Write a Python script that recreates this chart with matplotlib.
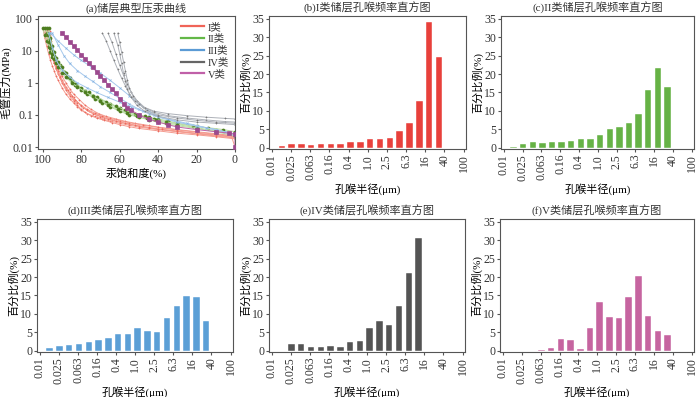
import matplotlib
matplotlib.use("Agg")
import matplotlib.pyplot as plt
import numpy as np

plt.rcParams['font.family'] = ['Liberation Serif', 'Noto Sans CJK SC', 'DejaVu Sans']
plt.rcParams['axes.unicode_minus'] = False
plt.rcParams['text.color'] = '#333333'
plt.rcParams['axes.edgecolor'] = '#555555'
plt.rcParams['xtick.color'] = '#555555'
plt.rcParams['ytick.color'] = '#555555'
plt.rcParams['xtick.labelcolor'] = '#333333'
plt.rcParams['ytick.labelcolor'] = '#333333'

W, H = 700, 397

# ---- capillary pressure curves (mercury saturation %, pressure MPa) ----
class_I = [
    ([100, 99, 98, 97, 96, 95, 94, 93, 92, 90, 88, 86, 84, 82, 80, 77, 73, 69, 65, 60, 55, 50, 40, 30, 20, 10, 0],
     [50, 25, 14, 8, 5, 3.3, 2.3, 1.6, 1.2, 0.7, 0.45, 0.32, 0.24, 0.18, 0.14, 0.11, 0.09, 0.075, 0.065, 0.055, 0.048, 0.042, 0.035, 0.03, 0.026, 0.023, 0.02]),
    ([97, 96.5, 96, 95, 94, 93, 92, 91, 90, 88, 86, 84, 82, 80, 78, 75, 72, 68, 64, 60, 55, 50, 40, 30, 20, 10, 0],
     [50, 25, 13, 7, 4.2, 2.8, 2.0, 1.4, 1.0, 0.6, 0.4, 0.28, 0.2, 0.15, 0.12, 0.095, 0.08, 0.068, 0.058, 0.05, 0.043, 0.038, 0.032, 0.027, 0.024, 0.021, 0.018]),
    ([99, 98, 97, 96, 95, 94, 92, 90, 88, 86, 84, 81, 78, 75, 71, 67, 62, 57, 52, 45, 38, 30, 20, 10, 2, 0],
     [50, 30, 18, 11, 7, 4.8, 2.6, 1.6, 1.0, 0.65, 0.45, 0.3, 0.2, 0.15, 0.11, 0.09, 0.075, 0.063, 0.055, 0.047, 0.04, 0.035, 0.03, 0.026, 0.023, 0.01]),
    ([98, 97, 96, 95, 94, 93, 92, 90, 88, 86, 84, 82, 79, 76, 72, 68, 64, 60, 55, 50, 45, 40, 30, 20, 10, 0],
     [45, 20, 11, 6.5, 4, 2.7, 1.9, 1.1, 0.7, 0.46, 0.32, 0.24, 0.17, 0.13, 0.1, 0.082, 0.07, 0.06, 0.052, 0.045, 0.04, 0.036, 0.031, 0.027, 0.024, 0.021]),
    ([96, 95.5, 95, 94, 93, 92, 91, 90, 88, 86, 84, 82, 80, 77, 74, 70, 66, 62, 57, 52, 45, 38, 30, 20, 10, 0],
     [40, 20, 10, 5.5, 3.4, 2.3, 1.6, 1.2, 0.75, 0.5, 0.35, 0.25, 0.19, 0.14, 0.11, 0.088, 0.074, 0.064, 0.055, 0.048, 0.041, 0.036, 0.031, 0.026, 0.022, 0.019]),
    ([100, 99, 98, 97, 96, 95, 94, 93, 91, 89, 87, 85, 83, 80, 77, 73, 69, 65, 60, 55, 48, 40, 30, 20, 10, 0],
     [50, 35, 22, 14, 9, 6, 4, 2.8, 1.5, 0.9, 0.58, 0.4, 0.29, 0.2, 0.15, 0.115, 0.092, 0.078, 0.066, 0.057, 0.048, 0.041, 0.034, 0.029, 0.025, 0.022]),
]
class_II = [
    ([100, 99, 98, 97, 96, 95, 93, 91, 89, 87, 85, 82, 78, 74, 70, 65, 60, 55, 50, 45, 40, 35, 30, 20, 10, 0],
     [50, 30, 20, 13, 9, 6.5, 4.3, 3, 2.1, 1.5, 1.1, 0.8, 0.55, 0.4, 0.3, 0.22, 0.16, 0.12, 0.1, 0.085, 0.075, 0.065, 0.055, 0.045, 0.035, 0.025]),
    ([97, 96, 95, 94, 93, 91, 89, 87, 85, 83, 80, 77, 73, 69, 65, 60, 55, 50, 45, 40, 35, 30, 20, 10, 0],
     [50, 25, 14, 9, 6, 3.5, 2.2, 1.5, 1.1, 0.85, 0.6, 0.45, 0.32, 0.24, 0.18, 0.13, 0.1, 0.085, 0.07, 0.06, 0.052, 0.046, 0.038, 0.03, 0.022]),
    ([99, 98, 97, 96, 95, 94, 92, 90, 88, 86, 83, 80, 76, 72, 67, 62, 57, 52, 47, 42, 36, 30, 22, 14, 6, 0],
     [50, 35, 22, 15, 10, 7, 4.5, 3, 2, 1.4, 0.95, 0.7, 0.5, 0.36, 0.26, 0.19, 0.14, 0.11, 0.09, 0.075, 0.062, 0.053, 0.045, 0.04, 0.035, 0.03]),
    ([98, 97.5, 97, 96, 95, 94, 93, 92, 90, 88, 85, 82, 78, 74, 70, 66, 61, 56, 51, 46, 41, 36, 30, 20, 10, 0],
     [50, 30, 18, 12, 8, 5.5, 4, 3, 2.0, 1.5, 1.0, 0.75, 0.52, 0.38, 0.28, 0.21, 0.15, 0.115, 0.095, 0.08, 0.068, 0.058, 0.05, 0.04, 0.032, 0.026]),
]
class_III = [
    ([96, 92, 88, 84, 80, 75, 70, 65, 60, 55, 50, 45, 40, 30, 20, 10, 0],
     [35, 20, 12, 7.5, 5, 3.2, 2.0, 1.2, 0.7, 0.4, 0.22, 0.13, 0.09, 0.06, 0.045, 0.035, 0.025]),
    ([95, 92, 89, 86, 82, 78, 74, 70, 65, 60, 55, 50, 45, 40, 30, 20, 10, 0],
     [35, 15, 7, 4, 2.4, 1.6, 1.1, 0.75, 0.5, 0.33, 0.22, 0.15, 0.11, 0.085, 0.06, 0.045, 0.035, 0.025]),
    ([97, 95, 93, 90, 86, 82, 77, 72, 66, 60, 54, 48, 42, 35, 25, 15, 5, 0],
     [35, 12, 5, 2.5, 1.5, 1.0, 0.7, 0.5, 0.35, 0.25, 0.18, 0.13, 0.1, 0.075, 0.055, 0.04, 0.03, 0.022]),
]
class_IV = [
    ([69, 67, 65, 63, 61, 59, 57, 55, 52, 48, 42, 35, 25, 15, 5, 0],
     [35, 20, 10, 5, 2.6, 1.4, 0.8, 0.45, 0.27, 0.18, 0.13, 0.11, 0.095, 0.085, 0.078, 0.075]),
    ([66, 64, 62, 60, 58, 56, 54, 51, 47, 42, 35, 25, 15, 5, 0],
     [35, 18, 8, 3.5, 1.7, 0.9, 0.5, 0.28, 0.17, 0.12, 0.095, 0.08, 0.07, 0.062, 0.06]),
    ([63, 61, 60, 59, 58, 57, 56, 54, 51, 47, 40, 30, 20, 10, 0],
     [35, 15, 8, 4, 2, 1.1, 0.65, 0.35, 0.2, 0.13, 0.09, 0.07, 0.06, 0.055, 0.05]),
    ([61, 60, 59, 58, 57, 56, 55, 53, 50, 46, 40, 30, 20, 10, 0],
     [35, 18, 9, 4.5, 2.3, 1.2, 0.7, 0.38, 0.22, 0.14, 0.1, 0.08, 0.068, 0.06, 0.055]),
]
class_V = [
    ([90, 88, 86, 84, 82, 80, 78, 76, 74, 72, 70, 68, 66, 64, 62, 60, 58, 56, 54, 50, 45, 40, 35, 30, 20, 10, 3, 0, 0],
     [35, 26, 19, 14, 10.4, 7.6, 5.6, 4.1, 3.0, 2.2, 1.6, 1.2, 0.87, 0.64, 0.47, 0.31, 0.22, 0.17, 0.14, 0.1, 0.075, 0.06, 0.05, 0.042, 0.035, 0.03, 0.027, 0.025, 0.01]),
]

# name, curves, line colour, marker colour, marker, marker size, legend colour
curve_groups = [
    ('I类', class_I, '#f49a8e', '#ec6a5e', '+', 2.0, '#f06458'),
    ('II类', class_II, '#b8dca2', '#4d7d1f', 'o', 2.2, '#63b847'),
    ('III类', class_III, '#a5c8ec', '#86b4e2', 'x', 1.5, '#5b9bd5'),
    ('IV类', class_IV, '#adb1b8', '#7a7a7a', '+', 2.0, '#666666'),
    ('V类', class_V, '#c060a8', '#9c4a8e', 's', 2.4, '#c060a8'),
]

# ---- pore throat frequency histograms (%) ----
radius_labels = ['0.01', '0.025', '0.063', '0.16', '0.4', '1.0', '2.5', '6.3', '16', '40', '100']
freq_I = [0.5, 1.0, 1.0, 0.8, 1.0, 1.1, 1.1, 1.6, 1.6, 2.3, 2.4, 2.6, 4.6, 6.7, 12.8, 34.1, 24.5, 0, 0]
freq_II = [0.3, 1.1, 1.6, 1.4, 1.6, 1.6, 1.8, 2.3, 2.3, 3.5, 5.0, 5.7, 6.7, 9.3, 15.6, 21.5, 16.4, 0, 0]
freq_III = [0.9, 1.2, 1.6, 1.8, 2.5, 3.0, 3.4, 4.6, 4.6, 6.1, 5.4, 5.1, 8.9, 12.2, 14.9, 14.6, 8.2, 0, 0]
freq_IV = [0, 2.0, 1.9, 1.1, 1.1, 1.3, 1.1, 2.3, 2.7, 6.1, 8.2, 6.9, 12.2, 21.2, 30.6, 0, 0, 0, 0]
freq_V = [0, 0, 0.1, 0.3, 0.9, 3.2, 3.0, 0.6, 6.1, 13.1, 9.2, 8.8, 14.5, 20.3, 9.5, 5.3, 4.4, 0, 0]

hist_panels = [
    ('(b)I类储层孔喉频率直方图', freq_I, '#e8403b', (269, 16, 466, 149)),
    ('(c)II类储层孔喉频率直方图', freq_II, '#66b245', (501, 16, 694, 149)),
    ('(d)III类储层孔喉频率直方图', freq_III, '#5b9fd6', (37, 219, 233, 352)),
    ('(e)IV类储层孔喉频率直方图', freq_IV, '#545454', (269, 219, 465, 352)),
    ('(f)V类储层孔喉频率直方图', freq_V, '#c664a0', (500, 219, 694, 352)),
]


def px_axes(fig, box):
    l, t, r, b = box
    return fig.add_axes([l / W, 1 - b / H, (r - l) / W, (b - t) / H])


fig = plt.figure(figsize=(7.0, 3.97), dpi=100)

# (a) capillary pressure curves
ax = px_axes(fig, (38, 16, 235, 149))
for name, curves, lc, mc, mk, ms, legc in curve_groups:
    for xs, ys in curves:
        ax.plot(xs, ys, color=lc, lw=0.7, marker=mk, ms=ms, mfc=mc, mec=mc,
                mew=0.5, zorder=3 if name == 'V类' else 2)
    ax.plot([], [], color=legc, lw=1.6, label=name)
ax.set_yscale('log')
ax.set_xlim(102.5, 0)
ax.set_ylim(0.0087, 120)
ax.set_xticks([100, 80, 60, 40, 20, 0])
ax.set_yticks([0.01, 0.1, 1, 10, 100])
ax.set_yticklabels(['0.01', '0.1', '1', '10', '100'])
ax.minorticks_off()
ax.tick_params(labelsize=8.5, length=2, pad=1.5)
ax.set_xlabel('汞饱和度(%)', fontsize=8, labelpad=1)
ax.set_ylabel('毛管压力(MPa)', fontsize=8, labelpad=1)
ax.set_title('(a)储层典型压汞曲线', fontsize=8, pad=3)
ax.legend(loc='upper right', fontsize=7.5, frameon=False, handlelength=2.2,
          labelspacing=0.2, handletextpad=0.3, borderaxespad=0.2)

# histograms
tick_pos = np.linspace(-1.0, 18.5, len(radius_labels))
for title, freq, color, box in hist_panels:
    ax = px_axes(fig, box)
    pos = np.arange(len(freq))
    ax.bar(pos, freq, width=0.66, color=color, edgecolor='white', linewidth=0.3)
    ax.set_xlim(-1.3, 18.75)
    ax.set_ylim(-0.3, 35.7)
    ax.set_yticks([0, 5, 10, 15, 20, 25, 30, 35])
    ax.set_xticks(tick_pos)
    ax.set_xticklabels(radius_labels, rotation=90)
    ax.tick_params(labelsize=8.5, length=2, pad=1.5)
    ax.set_xlabel('孔喉半径(μm)', fontsize=8, labelpad=2)
    ax.set_ylabel('百分比例(%)', fontsize=8, labelpad=1)
    ax.set_title(title, fontsize=8, pad=3)

fig.savefig('out.png', dpi=100)
